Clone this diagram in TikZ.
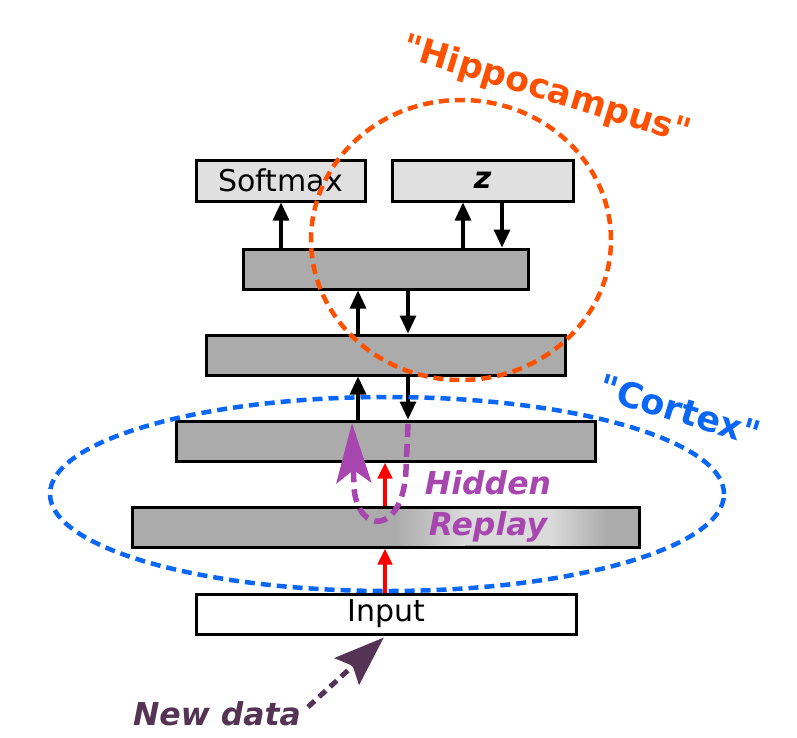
\documentclass[tikz,border=0pt]{standalone}
\usepackage{fontspec}
\setmainfont{DejaVu Sans}
\usetikzlibrary{arrows.meta,shapes.geometric}

\definecolor{boxgray}{HTML}{ABABAB}
\definecolor{toplight}{HTML}{E0E0E0}
\definecolor{glow}{HTML}{DADADA}
\definecolor{hippoorange}{HTML}{FF5000}
\definecolor{cortexblue}{HTML}{0A66F5}
\definecolor{replaypurple}{HTML}{A646AE}
\definecolor{datapurple}{HTML}{553355}

\begin{document}
\begin{tikzpicture}[x=1pt,y=-1pt,
	layer/.style={draw=black,line width=3pt,fill=boxgray,minimum height=40pt,inner sep=0pt},
	outbox/.style={draw=black,line width=3pt,fill=toplight,minimum height=41pt,inner sep=0pt},
	txt/.style={font=\fontsize{30}{41}\selectfont},
	bigtxt/.style={font=\fontsize{31.5}{41}\selectfont\bfseries\itshape},
	flow/.style={line width=3.2pt,-{Triangle[length=18pt,width=16pt]}},
	redflow/.style={red,line width=4pt,-{Triangle[length=16pt,width=14pt]}},
	area/.style={ellipse,dashed,line width=4.5pt,dash pattern=on 10pt off 6pt,inner sep=0pt}]
			\useasboundingbox (0,0) rectangle (797,737);
			% output heads
			\node[outbox,minimum width=169pt,txt] (sm) at (280.5,180.5) {Softmax};
			\node[outbox,minimum width=181pt,txt] (zz) at (482.5,180.5) {\bfseries\itshape z};
			% hidden layers
			\node[layer,minimum width=285pt] (l4) at (385.5,269) {};
			\node[layer,minimum width=359pt] (l3) at (385.5,355) {};
			\node[layer,minimum width=419pt] (l2) at (385.5,441) {};
			\node[layer,minimum width=507pt] (l1) at (385.5,527) {};
			\shade[left color=boxgray,right color=glow] (395,509) rectangle (465,545);
			\fill[glow] (465,509) rectangle (550,545);
			\shade[left color=glow,right color=boxgray] (550,509) rectangle (608,545);
			\node[draw=black,line width=3pt,minimum width=507pt,minimum height=40pt,inner sep=0pt] at (l1) {};
			\node[draw=black,line width=3pt,fill=white,minimum width=380pt,minimum height=40pt,inner sep=0pt,txt] (inp) at (386,614) {Input};
			% columns for the arrows
			\coordinate (cs) at (281,0);
			\coordinate (cu) at (463,0);
			\coordinate (cd) at (502,0);
			\coordinate (cup) at (358,0);
			\coordinate (cdn) at (408,0);
			\coordinate (cr) at (385,0);
			\draw[flow] (l4.north -| cs) -- (sm.south -| cs);
			\draw[flow] (l4.north -| cu) -- (zz.south -| cu);
			\draw[flow] (zz.south -| cd) -- (l4.north -| cd);
			\draw[flow] (l3.north -| cup) -- (l4.south -| cup);
			\draw[flow] (l4.south -| cdn) -- (l3.north -| cdn);
			\draw[flow] (l2.north -| cup) -- (l3.south -| cup);
			\draw[flow] (l3.south -| cdn) -- (l2.north -| cdn);
			\draw[redflow] (l1.north -| cr) -- (l2.south -| cr);
			\draw[redflow] (inp.north -| cr) -- (l1.south -| cr);
			% hidden replay loop
			\coordinate (rtop) at (408,424);
			\coordinate (rend) at (352,423);
			\draw[replaypurple,line width=5.5pt,dash pattern=on 13pt off 7pt,-{Stealth[length=60pt,width=35pt,inset=13pt]}]
				(rtop) -- (406,470) .. controls (403,535) and (358,535) .. (354,488) -- (rend);
			\node[bigtxt,text=replaypurple,align=center] (hr) at (488,506) {Hidden\\Replay};
			% the two stores
			\node[area,draw=hippoorange,minimum width=300pt,minimum height=280pt] (hip) at (461,240) {};
			\node[area,draw=cortexblue,minimum width=674pt,minimum height=194pt] (ctx) at (387,494) {};
			\node[text=hippoorange,font=\fontsize{34.5}{40}\selectfont\bfseries,rotate=-17] (hiplab) at (546,91) {\textquotedbl Hippocampus\textquotedbl};
			\node[text=cortexblue,font=\fontsize{35}{40}\selectfont\bfseries,rotate=-17] (ctxlab) at (680,410) {\textquotedbl Cortex\textquotedbl};
			% new data
			\node[bigtxt,text=datapurple] (nd) at (217,714) {New data};
			\coordinate (ndtail) at (308,707);
			\draw[datapurple,line width=5pt,dash pattern=on 9pt off 6pt,-{Stealth[length=50pt,width=36pt,inset=8pt]},shorten >=3pt] (ndtail) -- (inp.south);
		\end{tikzpicture}
\end{document}
